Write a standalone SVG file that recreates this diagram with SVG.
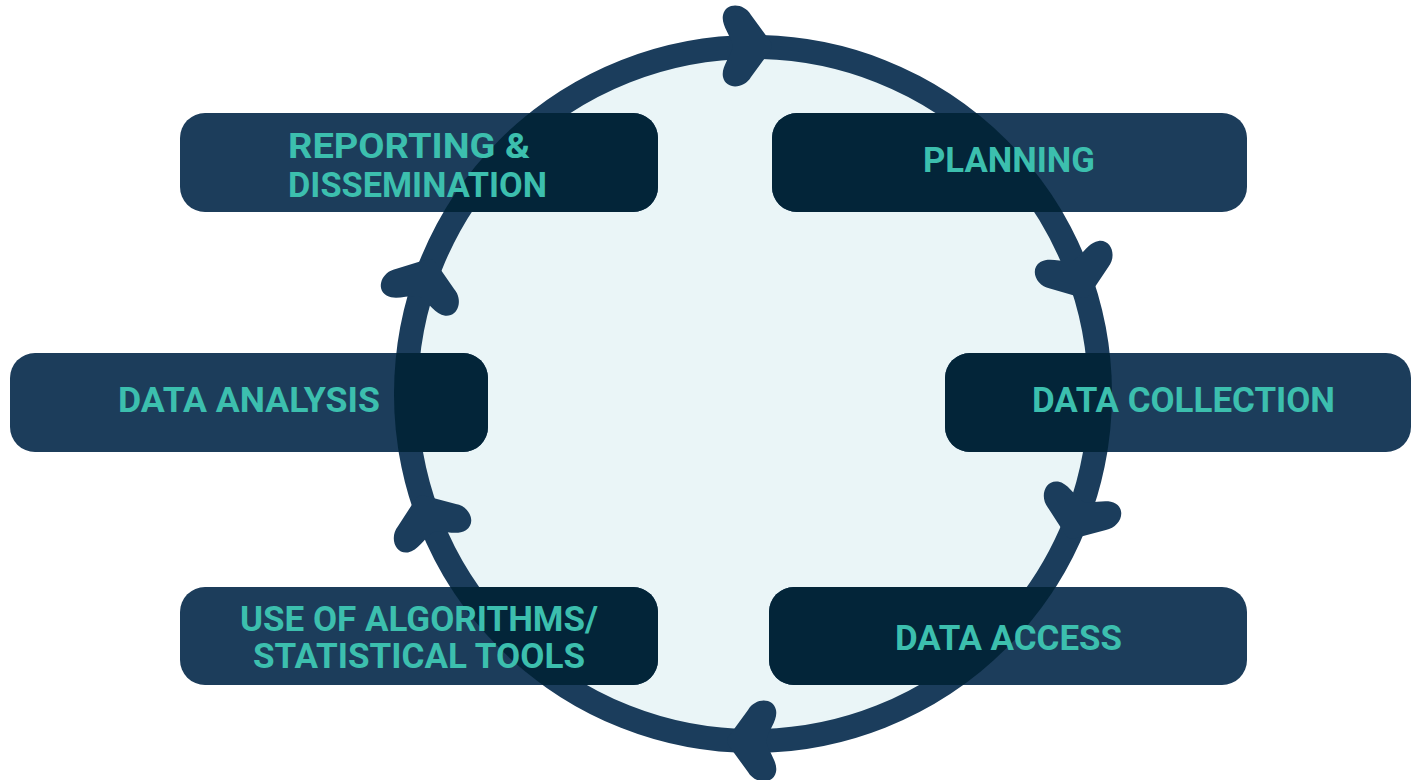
<svg xmlns="http://www.w3.org/2000/svg" width="1412" height="780" viewBox="0 0 1412 780">
  <style>
    .box { fill: #1c3d5b; }
    .inner { fill: #032539; }
    .lbl { font-family: "Roboto", "Liberation Sans", sans-serif; font-weight: 700; font-size: 35px; fill: #3cbfae; }
    .ring { fill: none; stroke: #1b3d5c; stroke-width: 24; }
    .arrow { fill: #1b3d5c; stroke: none; }
  </style>
  <defs>
    <clipPath id="disk"><circle cx="753" cy="394" r="359"/></clipPath>
    <path id="ah" d="M22,-5 L3,-31 C-4,-43 -22,-44 -25,-31 C-27,-21 -18,-12 -15,0 C-18,12 -27,21 -25,31 C-22,44 -4,43 3,31 L22,5 Q26,0 22,-5 Z"/>
  </defs>
  <rect width="1412" height="780" fill="#ffffff"/>
  <circle cx="753" cy="394" r="347" fill="#eaf5f7"/>
  <g id="connectors">
    <circle class="ring" cx="753" cy="394" r="347"/>
    <use href="#ah" class="arrow" transform="translate(748,46) rotate(0)"/>
    <use href="#ah" class="arrow" transform="translate(1078,275) rotate(70)"/>
    <use href="#ah" class="arrow" transform="translate(1078,516) rotate(111)"/>
    <use href="#ah" class="arrow" transform="translate(751,741) rotate(180)"/>
    <use href="#ah" class="arrow" transform="translate(428,518) rotate(249)"/>
    <use href="#ah" class="arrow" transform="translate(424,282) rotate(289)"/>
  </g>
  <g id="reporting">
    <rect class="box" x="180" y="113" width="478" height="99" rx="25"/>
    <rect class="inner" x="180" y="113" width="478" height="99" rx="25" clip-path="url(#disk)"/>
    <text class="lbl" x="288" y="158" textLength="242" lengthAdjust="spacingAndGlyphs">REPORTING &amp;</text>
    <text class="lbl" x="288" y="197" textLength="259" lengthAdjust="spacingAndGlyphs">DISSEMINATION</text>
  </g>
  <g id="planning">
    <rect class="box" x="772" y="113" width="475" height="99" rx="25"/>
    <rect class="inner" x="772" y="113" width="475" height="99" rx="25" clip-path="url(#disk)"/>
    <text class="lbl" x="923" y="172" textLength="172" lengthAdjust="spacingAndGlyphs">PLANNING</text>
  </g>
  <g id="analysis">
    <rect class="box" x="10" y="353" width="478" height="99" rx="25"/>
    <rect class="inner" x="10" y="353" width="478" height="99" rx="25" clip-path="url(#disk)"/>
    <text class="lbl" x="118" y="412" textLength="262" lengthAdjust="spacingAndGlyphs">DATA ANALYSIS</text>
  </g>
  <g id="collection">
    <rect class="box" x="945" y="353" width="466" height="99" rx="25"/>
    <rect class="inner" x="945" y="353" width="466" height="99" rx="25" clip-path="url(#disk)"/>
    <text class="lbl" x="1032" y="412" textLength="303" lengthAdjust="spacingAndGlyphs">DATA COLLECTION</text>
  </g>
  <g id="algorithms">
    <rect class="box" x="180" y="587" width="478" height="98" rx="25"/>
    <rect class="inner" x="180" y="587" width="478" height="98" rx="25" clip-path="url(#disk)"/>
    <text class="lbl" x="240" y="631" textLength="358" lengthAdjust="spacingAndGlyphs">USE OF ALGORITHMS/</text>
    <text class="lbl" x="253" y="668" textLength="332" lengthAdjust="spacingAndGlyphs">STATISTICAL TOOLS</text>
  </g>
  <g id="access">
    <rect class="box" x="769" y="587" width="478" height="98" rx="25"/>
    <rect class="inner" x="769" y="587" width="478" height="98" rx="25" clip-path="url(#disk)"/>
    <text class="lbl" x="895" y="650" textLength="227" lengthAdjust="spacingAndGlyphs">DATA ACCESS</text>
  </g>
</svg>
